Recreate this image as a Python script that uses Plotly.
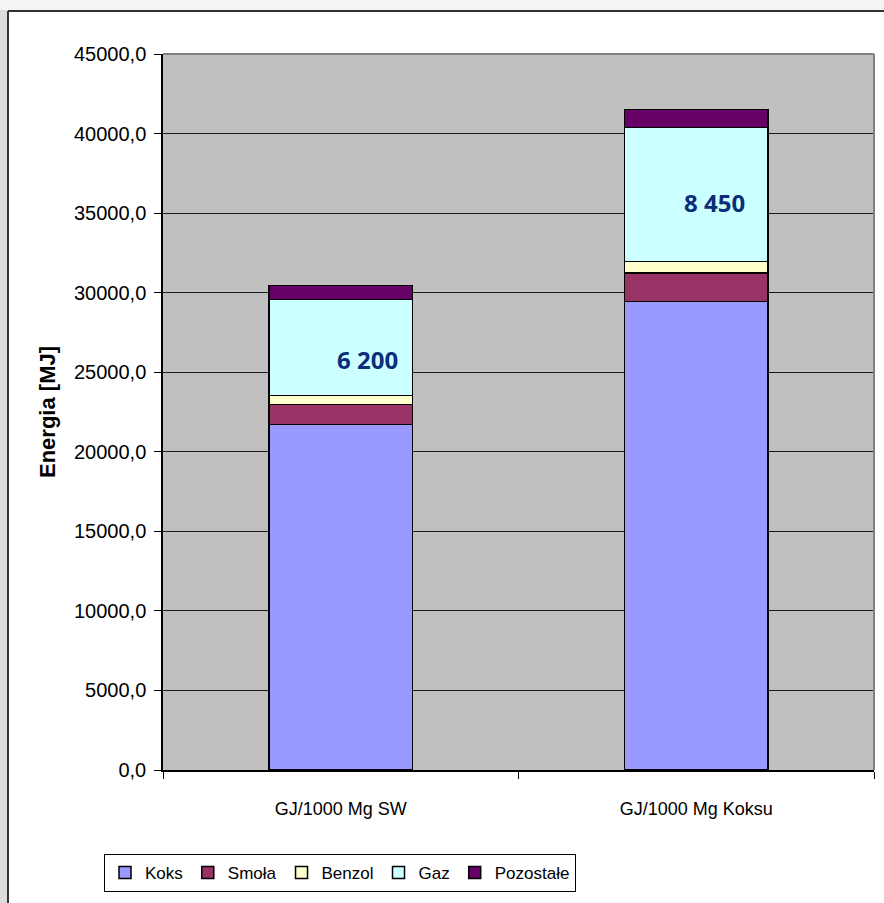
import plotly.graph_objects as go

categories = ["GJ/1000 Mg SW", "GJ/1000 Mg Koksu"]
series_names = ["Koks", "Smoła", "Benzol", "Gaz", "Pozostałe"]
koks = [21700, 29450]
smola = [1270, 1800]
benzol = [570, 700]
gaz = [6020, 8420]
pozostale = [880, 1130]
gaz_labels = ["6 200", "8 450"]
label_x = [0.075, 1.05]
label_y = [25770, 35650]
y_ticks = [0, 5000, 10000, 15000, 20000, 25000, 30000, 35000, 40000, 45000]

colors = ["#9999FF", "#993366", "#FFFFCC", "#CCFFFF", "#660066"]
values = [koks, smola, benzol, gaz, pozostale]

W, H = 884, 903
L, R, T, B = 163, 874, 54, 770
FONT = "Liberation Sans, Arial, sans-serif"

fig = go.Figure()
for name, vals, col in zip(series_names, values, colors):
    fig.add_trace(go.Bar(
        x=categories, y=vals, name=name,
        marker=dict(color=col, line=dict(color="black", width=1.5)),
        width=0.405,
    ))

for t, xx, yy in zip(gaz_labels, label_x, label_y):
    fig.add_annotation(x=xx, y=yy, xref="x", yref="y", text="<b>%s</b>" % t,
                       showarrow=False,
                       font=dict(family="Open Sans, Lato, sans-serif", size=24, color="#0B2D7A"))

def px2x(px):
    return (px - L) / (R - L)

def py2y(py):
    return (B - py) / (B - T)

shapes = [
    dict(type="rect", xref="paper", yref="paper", x0=px2x(0), x1=px2x(W), y0=py2y(10), y1=py2y(0),
         fillcolor="#f4f4f4", line=dict(width=0), layer="below"),
    dict(type="rect", xref="paper", yref="paper", x0=px2x(0), x1=px2x(8), y0=py2y(H), y1=py2y(10),
         fillcolor="#dcdcdc", line=dict(width=0), layer="below"),
    dict(type="line", xref="paper", yref="paper", x0=px2x(8), x1=px2x(W), y0=py2y(11), y1=py2y(11),
         line=dict(color="#333333", width=2)),
    dict(type="line", xref="paper", yref="paper", x0=px2x(8), x1=px2x(8), y0=py2y(11), y1=py2y(H),
         line=dict(color="#333333", width=2)),
    dict(type="line", xref="paper", yref="paper", x0=0, x1=1, y0=1, y1=1,
         line=dict(color="#808080", width=2)),
    dict(type="line", xref="paper", yref="paper", x0=1, x1=1, y0=0, y1=1,
         line=dict(color="#808080", width=2)),
]

fig.update_layout(
    barmode="stack",
    width=W, height=H,
    margin=dict(l=L, r=W - R, t=T, b=H - B, pad=0),
    paper_bgcolor="white",
    plot_bgcolor="#C0C0C0",
    separators=", ",
    font=dict(family=FONT, size=17, color="black"),
    shapes=shapes,
    showlegend=True,
    legend=dict(
        orientation="h", x=px2x(340), xanchor="center", y=py2y(854), yanchor="top",
        bgcolor="white", bordercolor="black", borderwidth=1,
        font=dict(family=FONT, size=17),
        traceorder="normal", itemwidth=30,
    ),
    xaxis=dict(
        showline=True, linecolor="black", linewidth=1.5,
        ticks="outside", ticklen=7, tickcolor="black", tickson="boundaries",
        tickfont=dict(family=FONT, size=18), ticklabelstandoff=22,
        showgrid=False, range=[-0.5, 1.5],
    ),
    yaxis=dict(
        range=[0, 45000], tickvals=y_ticks, tickformat=".1f",
        showline=True, linecolor="black", linewidth=1.5,
        ticks="outside", ticklen=7, tickcolor="black", ticklabelstandoff=4,
        showgrid=True, gridcolor="#1a1a1a", gridwidth=1,
        tickfont=dict(size=20), zeroline=False,
        title=dict(text="<b>Energia [MJ]</b>", font=dict(size=22), standoff=12),
    ),
)

fig.write_html("out.html")
